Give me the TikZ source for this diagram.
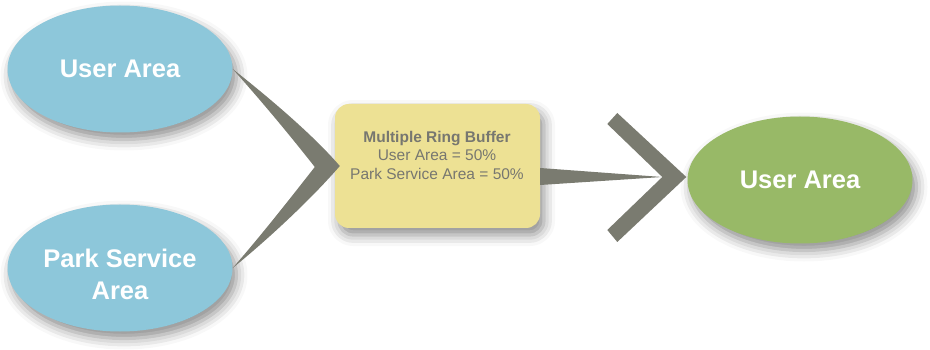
\documentclass[tikz,border=0pt]{standalone}
\usepackage{fontspec}
\setmainfont{Liberation Sans}
\usetikzlibrary{shapes.geometric,shadows.blur,calc}
\definecolor{areablue}{HTML}{8DC7DA}
\definecolor{areagreen}{HTML}{98B967}
\definecolor{chevgray}{HTML}{7A7B70}
\definecolor{bufyellow}{HTML}{EDE194}
\definecolor{buftext}{HTML}{777770}
\begin{document}
\begin{tikzpicture}[x=1pt, y=-1pt,
    area/.style={ellipse, minimum width=225pt, minimum height=127pt, inner sep=0pt, align=center, text=white, font=\fontsize{25.5}{32}\selectfont\bfseries, blur shadow={shadow xshift=4pt, shadow yshift=-7pt, shadow blur radius=11pt, shadow opacity=45}},
    bufbox/.style={rectangle, rounded corners=14pt, minimum width=205pt, minimum height=124pt, fill=bufyellow, blur shadow={shadow xshift=4pt, shadow yshift=-7pt, shadow blur radius=11pt, shadow opacity=45}},
    buflbl/.style={align=center, text=buftext, font=\fontsize{15.5}{18.5}\selectfont},
    chev/.style={fill=chevgray, draw=none}
]
\useasboundingbox (0,0) rectangle (930,350);
\node[area, fill=areablue] (ua) at (120,69) {User Area};
\node[area, fill=areablue] (psa) at (120,268) {\rule{0pt}{31pt}Park Service\\Area};
\node[bufbox] (mrb) at (437.5,166) {};
\node[buflbl] (mrbtxt) at (437,155) {\textbf{Multiple Ring Buffer}\\User Area = 50\%\\Park Service Area = 50\%};
\node[area, fill=areagreen] (out) at (800,180) {User Area};

\fill[chev] (ua.east) .. controls (272,100) and (314,136) .. ($(mrb.west)+(5,0)$)
    .. controls (314,196) and (272,236) .. (psa.east)
    .. controls (264,232) and (292,196) .. ($(mrb.west)+(-20,1)$)
    .. controls (292,138) and (264,104) .. (ua.east) -- cycle;
\fill[chev] ($(mrb.east)+(0,2)$) -- ($(out.west)+(-25,-3)$) -- ($(mrb.east)+(0,19)$) -- cycle;
\fill[chev] ($(out.west)+(-70,-67)$) -- ($(out.west)+(-1,-3)$) -- ($(out.west)+(-70,62)$)
    -- ($(out.west)+(-80,50)$) -- ($(out.west)+(-25,-3)$) -- ($(out.west)+(-80,-56)$) -- cycle;
\end{tikzpicture}
\end{document}
